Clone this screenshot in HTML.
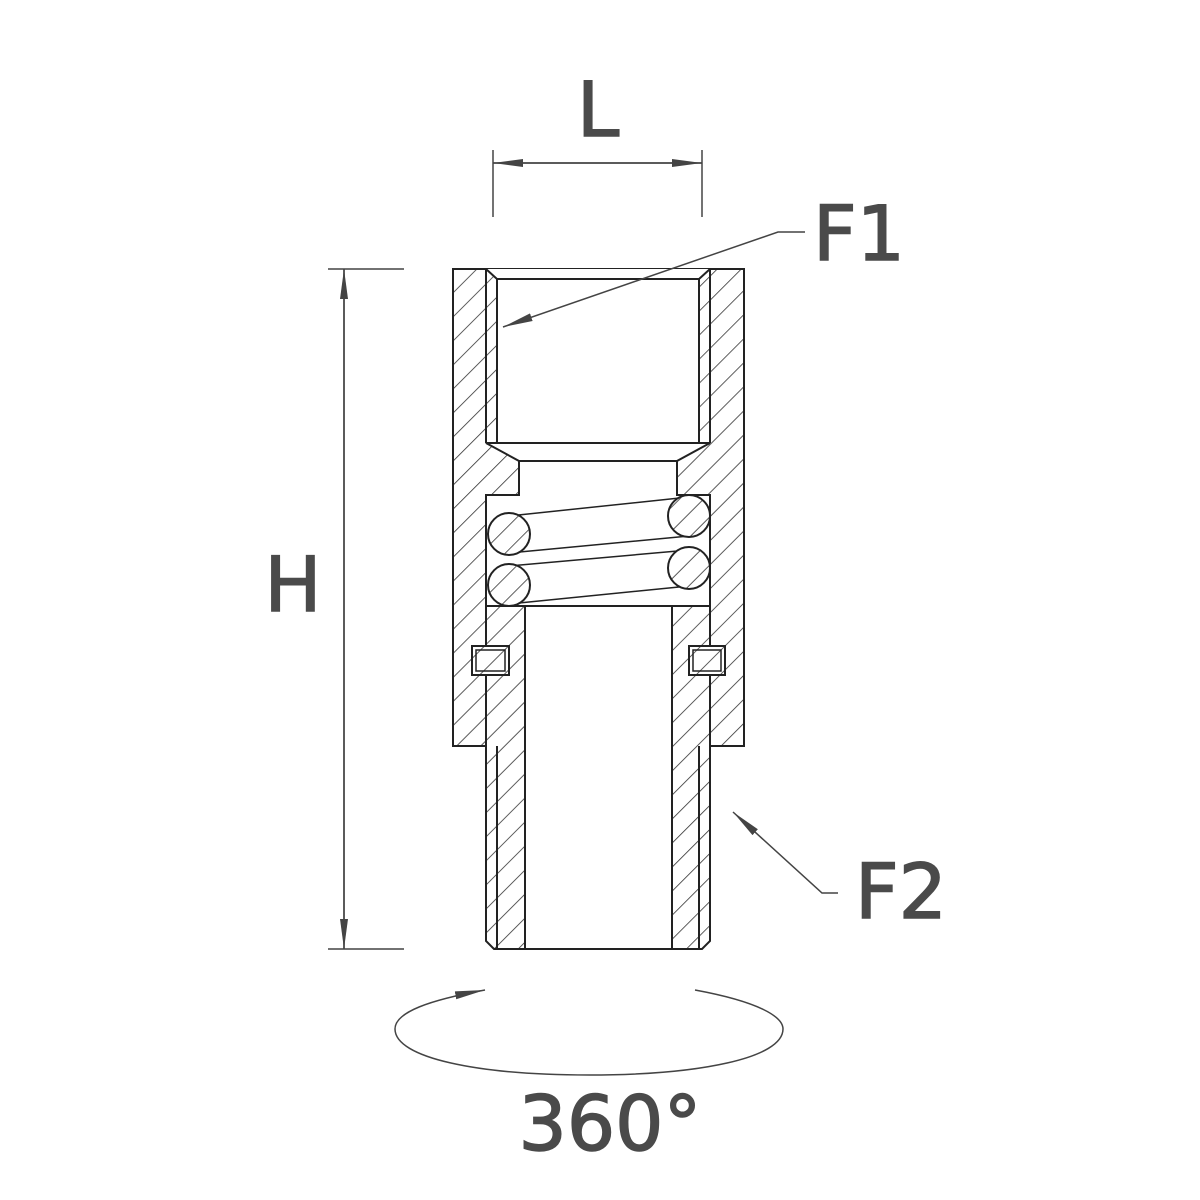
<!DOCTYPE html>
<html><head><style>body{margin:0;background:#fff}svg{display:block}text{font-family:"DejaVu Sans","Liberation Sans",sans-serif;fill:#4a4a4a}</style></head>
<body>
<svg width="1200" height="1200" viewBox="0 0 1200 1200" xmlns="http://www.w3.org/2000/svg">
<defs>
<pattern id="h" patternUnits="userSpaceOnUse" width="17" height="17" patternTransform="rotate(45)">
<rect width="17" height="17" fill="#fff"/><line x1="0" y1="0" x2="0" y2="17" stroke="#333" stroke-width="1.6"/>
</pattern>
<marker id="a" markerWidth="30" markerHeight="10" refX="30" refY="5" orient="auto" markerUnits="userSpaceOnUse"><path d="M0,1 L30,5 L0,9 Z" fill="#444"/></marker>
</defs>
<g stroke="#222" stroke-width="2" fill="none">
<path d="M453,269 L744,269 L744,746 L710,746 L710,941 L702,949 L494,949 L486,941 L486,746 L453,746 Z" fill="url(#h)"/>
<!-- top bore -->
<path d="M486,269 L710,269 L699,279 L699,443 L497,443 L497,279 Z" fill="#fff" stroke="none"/>
<path d="M497,279 L699,279 M497,279 L497,443 M699,279 L699,443"/>
<path d="M486,269 L497,279 M710,269 L699,279 M486,269 L486,443 M710,269 L710,443"/>
<path d="M486,443 L710,443 L677,461 L677,495 L710,495 L710,606 L486,606 L486,495 L519,495 L519,461 Z" fill="#fff"/>
<line x1="519" y1="461" x2="677" y2="461"/>
<!-- lower bore -->
<rect x="525" y="606" width="147" height="343" fill="#fff"/>
<path d="M486,606 L486,746 M710,606 L710,746"/>
<path d="M497,746 L497,949 M699,746 L699,949"/>
<!-- o-rings -->
<rect x="472" y="646" width="37" height="29" fill="url(#h)"/>
<rect x="476" y="650" width="29" height="21" fill="none" stroke-width="1.5"/>
<rect x="689" y="646" width="36" height="29" fill="url(#h)"/>
<rect x="693" y="650" width="28" height="21" fill="none" stroke-width="1.5"/>
<!-- spring -->
<path d="M509,516 L689,497 M509,553 L689,536 M509,566 L689,550 M509,604 L689,586" stroke-width="1.5"/>
<circle cx="509" cy="534" r="21" fill="url(#h)"/>
<circle cx="509" cy="585" r="21" fill="url(#h)"/>
<circle cx="689" cy="516" r="21" fill="url(#h)"/>
<circle cx="689" cy="568" r="21" fill="url(#h)"/>
</g>
<g stroke="#444" stroke-width="1.5" fill="none">
<line x1="493" y1="150" x2="493" y2="217"/><line x1="702" y1="150" x2="702" y2="217"/>
<line x1="702" y1="163" x2="493" y2="163" marker-end="url(#a)"/><line x1="493" y1="163" x2="702" y2="163" marker-end="url(#a)"/>
<line x1="328" y1="269" x2="404" y2="269"/><line x1="328" y1="949" x2="404" y2="949"/>
<line x1="344" y1="949" x2="344" y2="269" marker-end="url(#a)"/><line x1="344" y1="269" x2="344" y2="949" marker-end="url(#a)"/>
<path d="M805,232 L778,232 L503,327" marker-end="url(#a)"/>
<path d="M838,893 L822,893 L733,812" marker-end="url(#a)"/>
<path d="M695,990 C760,1002 783,1017 783,1029 C783,1058 700,1075 589,1075 C478,1075 395,1058 395,1029 C395,1012 430,1000 485,990" marker-end="url(#a)"/>
</g>
<g stroke="#4a4a4a" stroke-width="1.5">
<text x="598" y="136" font-size="76" text-anchor="middle">L</text>
<text x="859" y="260" font-size="76" text-anchor="middle">F1</text>
<text x="293" y="611" font-size="76" text-anchor="middle">H</text>
<text x="901" y="918" font-size="76" text-anchor="middle">F2</text>
<text x="610" y="1150" font-size="76" text-anchor="middle">360°</text>
</g>
</svg>
</body></html>
